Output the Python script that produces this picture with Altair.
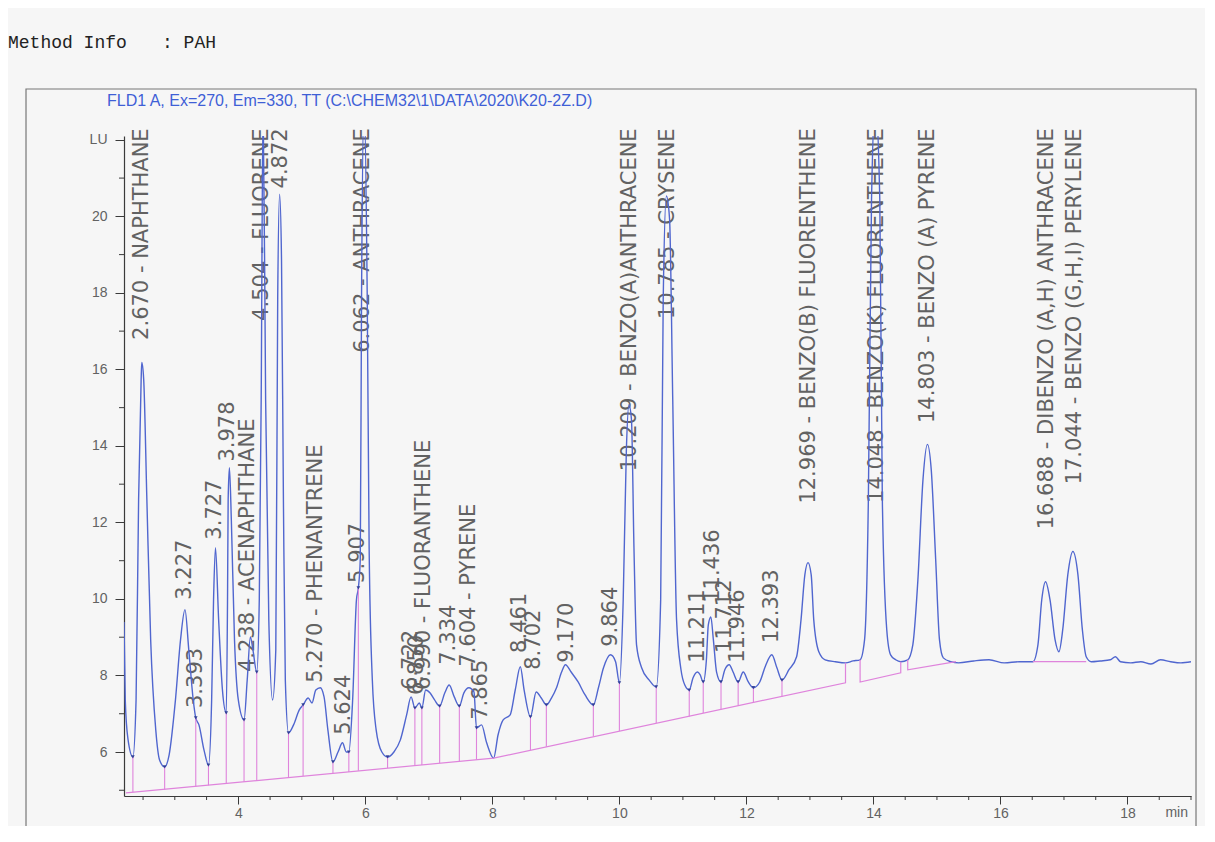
import altair as alt
import pandas as pd

W, H = 1067, 660
X_DOMAIN = [2.2, 19.0]
Y_DOMAIN = [4.85, 22.1]

# chromatogram trace: (minutes, LU)
trace_points = [
    (2.20, 9.40), (2.22, 7.36), (2.26, 6.37), (2.34, 5.87), (2.39, 7.36), (2.43, 12.6), (2.47, 15.74), (2.48, 16.18),
    (2.51, 15.74), (2.56, 12.6), (2.62, 8.93), (2.70, 6.58), (2.76, 5.79), (2.84, 5.61), (2.91, 5.92), (3.01, 7.36),
    (3.09, 8.93), (3.16, 9.72), (3.22, 8.67), (3.29, 7.36), (3.33, 6.89), (3.38, 6.71), (3.46, 6.05), (3.53, 5.66),
    (3.58, 7.36), (3.61, 9.98), (3.64, 11.34), (3.69, 9.46), (3.75, 7.62), (3.81, 7.02), (3.83, 9.98), (3.84, 12.6),
    (3.86, 13.43), (3.89, 12.07), (3.94, 8.93), (4.00, 7.36), (4.09, 6.84), (4.14, 7.88), (4.19, 9.01), (4.23, 8.67),
    (4.29, 8.09), (4.33, 9.98), (4.36, 15.21), (4.39, 23.0), (4.43, 15.2), (4.48, 9.46), (4.54, 7.36), (4.59, 8.67),
    (4.62, 17.83), (4.65, 20.58), (4.68, 18.88), (4.71, 12.6), (4.74, 7.88), (4.79, 6.50), (4.87, 6.71), (4.96, 7.10),
    (5.02, 7.23), (5.10, 7.41), (5.16, 7.28), (5.22, 7.62), (5.29, 7.68), (5.35, 7.44), (5.41, 6.58), (5.49, 5.74),
    (5.57, 6.00), (5.64, 6.24), (5.70, 6.00), (5.74, 6.00), (5.80, 7.36), (5.86, 9.98), (5.89, 10.29), (5.92, 11.03),
    (5.94, 17.83), (5.98, 23.0), (6.03, 17.83), (6.06, 11.29), (6.11, 7.88), (6.17, 6.58), (6.26, 6.00), (6.35, 5.87),
    (6.45, 6.00), (6.55, 6.31), (6.65, 6.97), (6.72, 7.44), (6.78, 7.15), (6.85, 7.28), (6.89, 7.15), (6.95, 7.62),
    (7.02, 7.54), (7.09, 7.36), (7.17, 7.20), (7.25, 7.54), (7.32, 7.75), (7.40, 7.44), (7.48, 7.20), (7.55, 7.54),
    (7.63, 7.68), (7.71, 7.57), (7.75, 6.63), (7.83, 6.71), (7.91, 6.24), (8.02, 5.84), (8.09, 6.45), (8.17, 6.84),
    (8.28, 6.97), (8.36, 7.62), (8.44, 8.23), (8.50, 7.62), (8.60, 6.92), (8.69, 7.57), (8.77, 7.41), (8.85, 7.23),
    (8.93, 7.41), (9.01, 7.68), (9.09, 8.09), (9.15, 8.28), (9.24, 8.09), (9.35, 7.83), (9.46, 7.49), (9.59, 7.23),
    (9.67, 7.68), (9.75, 8.20), (9.86, 8.54), (9.94, 8.36), (10.00, 7.81), (10.06, 9.98), (10.11, 13.91), (10.15, 15.08),
    (10.19, 14.69), (10.23, 11.29), (10.27, 8.80), (10.35, 8.20), (10.47, 7.88), (10.58, 7.70), (10.65, 9.98), (10.69, 17.83),
    (10.74, 20.53), (10.79, 19.93), (10.84, 15.21), (10.90, 9.46), (10.97, 8.15), (11.03, 7.75), (11.10, 7.62), (11.16, 7.94),
    (11.23, 8.09), (11.27, 8.02), (11.32, 7.83), (11.37, 8.41), (11.40, 9.32), (11.44, 9.53), (11.48, 8.93), (11.53, 8.09),
    (11.60, 7.83), (11.66, 8.15), (11.73, 8.28), (11.79, 8.09), (11.87, 7.83), (11.95, 8.09), (12.03, 7.83), (12.11, 7.68),
    (12.21, 7.83), (12.30, 8.25), (12.40, 8.54), (12.48, 8.20), (12.56, 7.88), (12.67, 8.15), (12.79, 8.49), (12.86, 9.46),
    (12.92, 10.63), (12.97, 10.95), (13.02, 10.63), (13.06, 9.46), (13.14, 8.62), (13.24, 8.41), (13.40, 8.36), (13.56, 8.33),
    (13.68, 8.38), (13.79, 8.41), (13.86, 8.93), (13.92, 12.6), (13.97, 20.45), (14.03, 23.0), (14.10, 20.45), (14.14, 12.6),
    (14.21, 9.19), (14.27, 8.54), (14.35, 8.41), (14.43, 8.36), (14.54, 8.41), (14.62, 8.80), (14.70, 10.50), (14.78, 13.12),
    (14.85, 14.04), (14.91, 13.38), (14.98, 11.03), (15.04, 8.93), (15.10, 8.46), (15.22, 8.36), (15.34, 8.33), (15.58, 8.38),
    (15.82, 8.41), (16.06, 8.33), (16.30, 8.36), (16.51, 8.36), (16.59, 8.80), (16.65, 9.98), (16.71, 10.45), (16.78, 9.98),
    (16.86, 8.93), (16.92, 8.62), (16.98, 9.19), (17.06, 10.63), (17.14, 11.24), (17.22, 10.63), (17.29, 9.19), (17.35, 8.49),
    (17.43, 8.36), (17.57, 8.38), (17.73, 8.41), (17.81, 8.49), (17.89, 8.36), (18.05, 8.33), (18.21, 8.36), (18.37, 8.30),
    (18.52, 8.41), (18.68, 8.36), (18.84, 8.33), (19.00, 8.36),
]

# integration drop lines: (minutes, LU on trace, LU on baseline)
drop_lines = [
    (2.34, 5.87, 4.95), (2.84, 5.61, 5.02), (3.33, 6.89, 5.10), (3.53, 5.66, 5.13), (3.81, 7.02, 5.18),
    (4.09, 6.84, 5.22), (4.29, 8.09, 5.25), (4.79, 6.50, 5.33), (5.02, 7.23, 5.37), (5.49, 5.74, 5.44),
    (5.74, 6.00, 5.48), (5.89, 10.29, 5.51), (6.35, 5.87, 5.58), (6.78, 7.15, 5.65), (6.89, 7.15, 5.66),
    (7.17, 7.20, 5.71), (7.48, 7.20, 5.76), (7.75, 6.63, 5.80), (8.60, 6.92, 6.05), (8.85, 7.23, 6.14),
    (9.59, 7.23, 6.41), (10.00, 7.81, 6.55), (10.58, 7.70, 6.76), (11.10, 7.62, 6.93), (11.32, 7.83, 7.02),
    (11.60, 7.83, 7.11), (11.87, 7.83, 7.21), (12.11, 7.68, 7.29), (12.56, 7.88, 7.45),
]

# integration baselines: (segment, minutes, LU)
baseline_points = [
    (0, 2.23, 4.93), (0, 8.02, 5.84), (0, 13.56, 7.81), (0, 13.56, 8.33),
    (1, 13.79, 8.41), (1, 13.79, 7.83), (1, 14.43, 8.07), (1, 14.43, 8.36),
    (2, 14.54, 8.41), (2, 14.54, 8.15), (2, 15.30, 8.36),
    (3, 16.51, 8.36), (3, 17.35, 8.36),
]

# peak labels that start at their peak: (minutes, LU where text starts, text)
labels_free = [
    (3.16, 9.98, "3.227"),
    (3.33, 7.15, "3.393"),
    (3.64, 11.55, "3.727"),
    (3.84, 13.59, "3.978"),
    (4.16, 8.09, "4.238 -  ACENAPHTHANE"),
    (5.22, 7.81, "5.270 -  PHENANTRENE"),
    (5.67, 6.45, "5.624"),
    (5.89, 10.42, "5.907"),
    (6.72, 7.62, "6.722"),
    (6.82, 7.49, "6.850"),
    (6.92, 7.62, "6.990 -  FLUORANTHENE"),
    (7.32, 8.28, "7.334"),
    (7.63, 8.23, "7.604 -  PYRENE"),
    (7.82, 6.84, "7.865"),
    (8.44, 8.59, "8.461"),
    (8.65, 8.15, "8.702"),
    (9.17, 8.33, "9.170"),
    (9.86, 8.75, "9.864"),
    (11.23, 8.33, "11.211"),
    (11.47, 9.90, "11.436"),
    (11.66, 8.59, "11.712"),
    (11.87, 8.33, "11.946"),
    (12.40, 8.85, "12.393"),
]

# peak labels pushed down so that they end at the top of the plot
LABEL_TOP = 22.3
labels_top = [
    (2.48, "2.670 -  NAPHTHANE"),
    (4.37, "4.504 -  FLUORENE"),
    (4.67, "4.872"),
    (5.97, "6.062 -  ANTHRACENE"),
    (10.16, "10.209 -  BENZO(A)ANTHRACENE"),
    (10.76, "10.785 -  CRYSENE"),
    (12.98, "12.969 -  BENZO(B) FLUORENTHENE"),
    (14.05, "14.048 -  BENZO(K) FLUORENTHENE"),
    (14.86, "14.803 -  BENZO (A) PYRENE"),
    (16.73, "16.688 -  DIBENZO (A,H) ANTHRACENE"),
    (17.17, "17.044 -  BENZO (G,H,I) PERYLENE"),
]

x_major = [4, 6, 8, 10, 12, 14, 16, 18]
x_minor = [2.5, 3, 3.5, 4.5, 5, 5.5, 6.5, 7, 7.5, 8.5, 9, 9.5, 10.5, 11, 11.5, 12.5, 13, 13.5,
           14.5, 15, 15.5, 16.5, 17, 17.5, 18.5, 19]
y_ticks = [6, 8, 10, 12, 14, 16, 18, 20, 22]
y_minor = [5, 7, 9, 11, 13, 15, 17, 19, 21]

TRACE = "#5066cf"
PINK = "#df84dc"
TEXT = "#626262"
AXIS = "#3a3a3a"
LABEL_FONT = 21

trace_df = pd.DataFrame(trace_points, columns=["t", "lu"])
trace_df["i"] = range(len(trace_df))
drop_df = pd.DataFrame(drop_lines, columns=["t", "lu", "base"])
base_df = pd.DataFrame(baseline_points, columns=["seg", "t", "lu"])
base_df["i"] = range(len(base_df))
free_df = pd.DataFrame(labels_free, columns=["t", "lu", "text"])
top_df = pd.DataFrame(labels_top, columns=["t", "text"])
top_df["lu"] = LABEL_TOP
minor_df = pd.DataFrame({"t": x_minor})
yminor_df = pd.DataFrame({"lu": y_minor})

xs = alt.Scale(domain=X_DOMAIN, nice=False, zero=False)
ys = alt.Scale(domain=Y_DOMAIN, nice=False, zero=False)
xax = alt.Axis(values=x_major, title=None, grid=False, tickSize=8, labelPadding=2,
               labelFont="Liberation Sans", labelFontSize=14, labelColor=TEXT,
               domainColor=AXIS, tickColor=AXIS, domainWidth=1.2)
yax = alt.Axis(values=y_ticks, title=None, grid=False, tickSize=9, labelPadding=8,
               labelFont="Liberation Sans", labelFontSize=14, labelColor=TEXT,
               domainColor=AXIS, tickColor=AXIS, domainWidth=1.2,
               labelExpr="datum.value == 22 ? 'LU' : datum.label")

X = lambda f="t": alt.X(f + ":Q", scale=xs, axis=xax)
Y = lambda f="lu": alt.Y(f + ":Q", scale=ys, axis=yax)

one = pd.DataFrame({"k": [0]})

frame = alt.Chart(one).mark_rect(filled=False, stroke="#777777", strokeWidth=1.2).encode(
    x=alt.value(-98), x2=alt.value(1072), y=alt.value(-47), y2=alt.value(694))

method1 = alt.Chart(one).mark_text(text="Method Info", font="Liberation Mono", fontSize=18,
                                   color="#222222", align="left", baseline="alphabetic").encode(
    x=alt.value(-116), y=alt.value(-88))
method2 = alt.Chart(one).mark_text(text=": PAH", font="Liberation Mono", fontSize=18,
                                   color="#222222", align="left", baseline="alphabetic").encode(
    x=alt.value(38), y=alt.value(-88))
header = alt.Chart(one).mark_text(text="FLD1 A, Ex=270, Em=330, TT (C:\\CHEM32\\1\\DATA\\2020\\K20-2Z.D)",
                                  font="Liberation Sans", fontSize=16, color="#3f5fd6",
                                  align="left", baseline="middle").encode(
    x=alt.value(-17), y=alt.value(-35))
min_txt = alt.Chart(one).mark_text(text="min", font="Liberation Sans", fontSize=14, color=TEXT,
                                   align="right", baseline="top").encode(
    x=alt.value(W - 3), y=alt.value(H + 10))

minor = alt.Chart(minor_df).mark_rule(color=AXIS, strokeWidth=1).encode(
    x=X(), y=alt.value(H), y2=alt.value(H + 4))
yminor = alt.Chart(yminor_df).mark_rule(color=AXIS, strokeWidth=1).encode(
    y=Y(), x=alt.value(0), x2=alt.value(-5))

baseline = alt.Chart(base_df).mark_line(color=PINK, strokeWidth=1.2).encode(
    x=X(), y=Y(), detail="seg:N", order="i:Q")

drops = alt.Chart(drop_df).mark_rule(color=PINK, strokeWidth=1.1).encode(
    x=X(), y=Y(), y2="base:Q")

free_lbl = alt.Chart(free_df).mark_text(angle=270, align="left", baseline="middle",
                                        font="DejaVu Sans", fontSize=LABEL_FONT, color=TEXT).encode(
    x=X(), y=Y(), text="text:N")

top_lbl = alt.Chart(top_df).mark_text(angle=270, align="right", baseline="middle",
                                      font="DejaVu Sans", fontSize=LABEL_FONT, color=TEXT).encode(
    x=X(), y=Y(), text="text:N")

trace = alt.Chart(trace_df).mark_line(color=TRACE, strokeWidth=1.4, clip=True,
                                      interpolate="monotone").encode(
    x=X(), y=Y(), order="i:Q")

dots = alt.Chart(drop_df).mark_point(shape="triangle-down", filled=True, size=14,
                                     color="#2a3a8f", opacity=0.9).encode(x=X(), y=Y())

chart = alt.layer(
    frame, method1, method2, header, free_lbl, top_lbl, trace, baseline, drops, dots,
    minor, yminor, min_txt
).properties(
    width=W, height=H,
    autosize=alt.AutoSizeParams(type="none"),
    padding={"left": 116, "top": 128, "right": 14, "bottom": 30},
).configure(background="#f6f6f6").configure_view(stroke=None)

chart.save("out.html", embed_options={"renderer": "svg", "actions": False})
